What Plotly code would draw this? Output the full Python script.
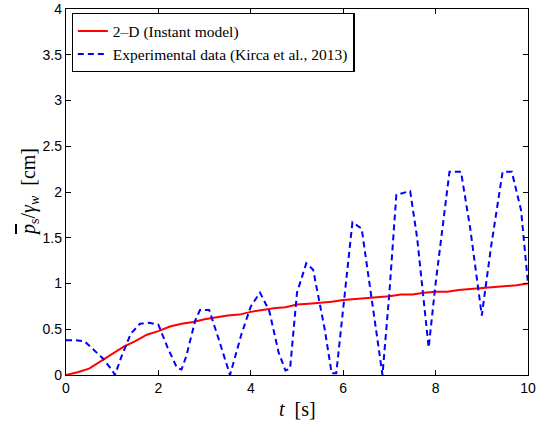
import plotly.graph_objects as go

model_t = [0, 0.25, 0.5, 0.75, 1.0, 1.25, 1.5, 1.75, 2.0, 2.25, 2.5, 2.75, 3.0, 3.25, 3.5, 3.75,
           4.0, 4.25, 4.5, 4.75, 5.0, 5.25, 5.5, 5.75, 6.0, 6.25, 6.5, 6.75, 7.0, 7.25, 7.5, 7.75,
           8.0, 8.25, 8.5, 8.75, 9.0, 9.25, 9.5, 9.75, 10.0]
model_p = [0.0, 0.03, 0.07, 0.15, 0.23, 0.31, 0.37, 0.44, 0.48, 0.53, 0.56, 0.58, 0.61, 0.63, 0.65, 0.66,
           0.69, 0.71, 0.73, 0.74, 0.77, 0.78, 0.79, 0.80, 0.82, 0.83, 0.84, 0.85, 0.86, 0.88, 0.88, 0.90,
           0.91, 0.91, 0.93, 0.94, 0.95, 0.96, 0.97, 0.98, 1.0]

exp_t = [0.0, 0.2, 0.4, 0.6, 0.8, 1.0, 1.06, 1.2, 1.4, 1.6, 1.8, 2.0, 2.2, 2.4, 2.5, 2.6, 2.8, 2.9,
         3.1, 3.3, 3.55, 3.8, 4.0, 4.2, 4.4, 4.6, 4.75, 4.85, 5.0, 5.2, 5.35, 5.6, 5.75, 5.85, 6.0,
         6.2, 6.4, 6.6, 6.85, 7.0, 7.15, 7.45, 7.6, 7.85, 8.0, 8.3, 8.55, 8.75, 9.0, 9.2, 9.45,
         9.65, 9.85, 10.0]
exp_p = [0.38, 0.38, 0.37, 0.28, 0.18, 0.05, 0.0, 0.2, 0.45, 0.56, 0.57, 0.55, 0.3, 0.08, 0.06, 0.2,
         0.6, 0.71, 0.71, 0.4, 0.0, 0.45, 0.75, 0.9, 0.7, 0.25, 0.05, 0.07, 0.9, 1.22, 1.15, 0.5,
         0.02, 0.02, 0.7, 1.67, 1.6, 0.9, 0.0, 0.9, 1.97, 2.01, 1.5, 0.3, 1.0, 2.22, 2.22, 1.6,
         0.65, 1.4, 2.22, 2.22, 1.8, 1.0]

x_ticks = [0, 2, 4, 6, 8, 10]
y_ticks = [0, 0.5, 1, 1.5, 2, 2.5, 3, 3.5, 4]
y_ticktext = ["0", "0.5", "1", "1.5", "2", "2.5", "3", "3.5", "4"]

SERIF = "Liberation Serif"
SANS = "Liberation Sans"

fig = go.Figure()
fig.add_trace(go.Scatter(x=model_t, y=model_p, mode="lines", name="2\u2013D (Instant model)",
                         line=dict(color="#ff0000", width=2)))
fig.add_trace(go.Scatter(x=exp_t, y=exp_p, mode="lines", name="Experimental data (Kirca et al., 2013)",
                         line=dict(color="#0000ff", width=2, dash="6px,4px")))

axis_common = dict(showline=True, linecolor="black", linewidth=1.3, mirror="ticks",
                   ticks="inside", ticklen=5, tickwidth=1, tickcolor="black", showgrid=False, zeroline=False,
                   automargin=False,
                   tickfont=dict(family=SANS, size=14, color="black"))

fig.update_xaxes(range=[0, 10], tickvals=x_ticks, **axis_common)
fig.update_yaxes(range=[0, 4], tickvals=y_ticks, ticktext=y_ticktext, **axis_common)

fig.add_annotation(text="<i>t</i>  [s]", xref="paper", yref="paper", x=0.5, y=0,
                   yshift=-34, yanchor="middle", xanchor="center", showarrow=False,
                   font=dict(family=SERIF, size=20, color="black"))
fig.add_annotation(text="<span style='text-decoration:overline'><i>p</i></span><sub>s</sub>/<i>γ</i><sub><i>w</i></sub>  [cm]",
                   xref="paper", yref="paper", x=0, y=0.5, xshift=-37, textangle=-90,
                   xanchor="center", yanchor="middle", showarrow=False,
                   font=dict(family=SERIF, size=20, color="black"))

fig.update_layout(
    width=538, height=427,
    margin=dict(l=66, r=10, t=9, b=52),
    paper_bgcolor="white", plot_bgcolor="white",
    showlegend=True,
    legend=dict(x=0.012, y=0.989, xanchor="left", yanchor="top",
                bgcolor="white", bordercolor="black", borderwidth=1.3,
                font=dict(family=SERIF, size=15.5, color="black"),
                tracegroupgap=0, itemwidth=30),
)

fig.write_html("out.html", config={"displayModeBar": False},
               post_script="document.body.style.margin='0';document.body.style.padding='0';")
